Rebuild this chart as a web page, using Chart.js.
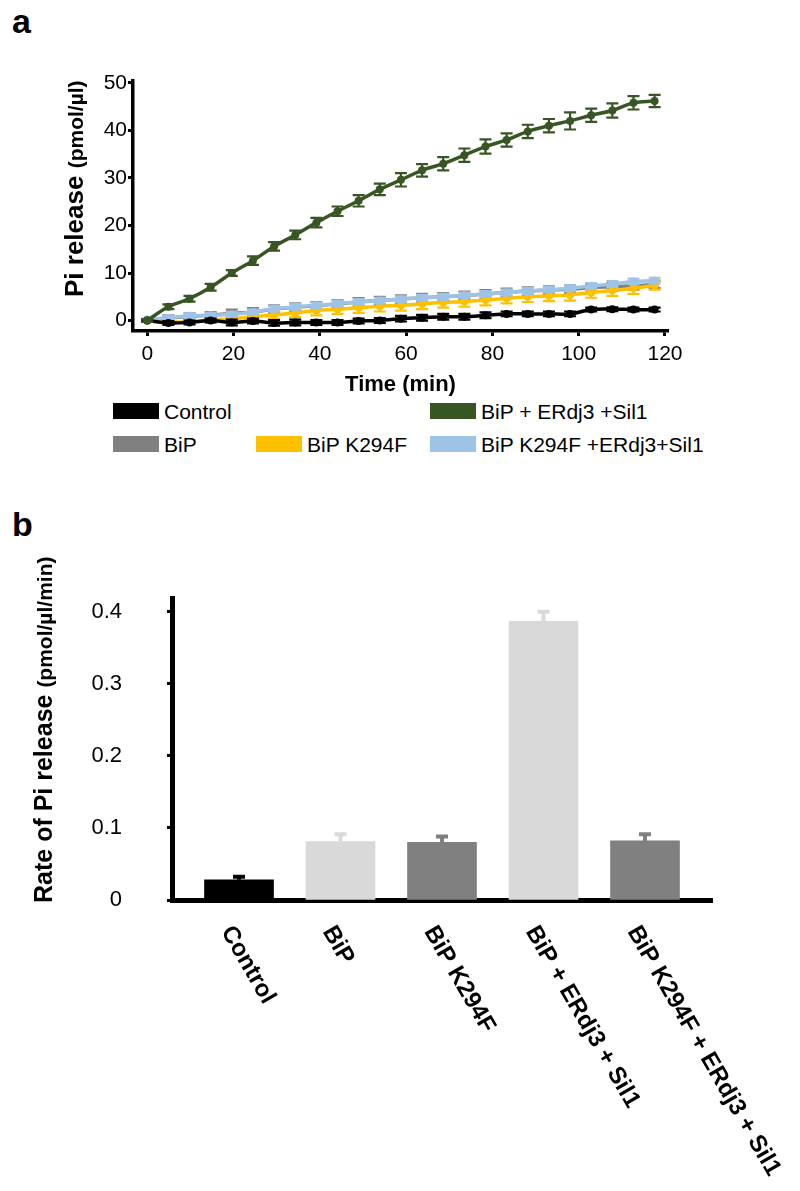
<!DOCTYPE html>
<html>
<head>
<meta charset="utf-8">
<script src="https://cdn.jsdelivr.net/npm/chart.js@4.4.1/dist/chart.umd.min.js"></script>
<style>
  body { margin: 0; background: #fff; width: 800px; height: 1191px; position: relative; overflow: hidden;
         font-family: 'Liberation Sans', Arial, Helvetica, sans-serif; }
  canvas { position: absolute; left: 0; }
  #chartA { top: 0; }
  #chartB { top: 540px; }
  .panel { position: absolute; font-weight: bold; font-size: 34px; line-height: 1; }
  .sw { position: absolute; width: 46px; height: 16px; }
  .lt { position: absolute; font-size: 21px; line-height: 1; color: #000; white-space: nowrap; }
</style>
</head>
<body>
<div class="panel" style="left:12px;top:4px">a</div>
<div class="panel" style="left:12px;top:507px">b</div>
<canvas id="chartA" width="800" height="400"></canvas>
<div id="legend"></div>
<canvas id="chartB" width="800" height="651"></canvas>

<script>
// ---- panel a data (time course) ----
var times = [0, 4.9, 9.8, 14.7, 19.6, 24.5, 29.4, 34.3, 39.2, 44.1, 49, 53.9, 58.8, 63.7, 68.6, 73.5, 78.4, 83.3, 88.2, 93.1, 98, 102.9, 107.8, 112.7, 117.6];

var control    = [0, -0.5, -0.4, 0, -0.4, -0.1, -0.5, -0.4, -0.4, -0.4, -0.1, 0, 0.4, 0.6, 0.8, 0.8, 1.1, 1.4, 1.4, 1.4, 1.4, 2.3, 2.4, 2.3, 2.3];
var controlErr = [0.2, 0.4, 0.4, 0.4, 0.6, 0.5, 0.6, 0.6, 0.5, 0.5, 0.5, 0.5, 0.6, 0.6, 0.6, 0.6, 0.6, 0.5, 0.5, 0.5, 0.5, 0.4, 0.4, 0.4, 0.4];

var bip    = [0, 0.5, 0.9, 1.1, 1.5, 1.8, 2.4, 2.8, 3.1, 3.5, 3.9, 4.2, 4.5, 4.8, 5.0, 5.3, 5.6, 5.9, 6.2, 6.4, 6.6, 6.9, 7.1, 7.3, 7.6];
var bipErr = [0.3, 0.6, 0.6, 0.7, 0.8, 0.8, 0.8, 0.8, 0.8, 0.8, 0.8, 0.8, 0.8, 0.8, 0.8, 0.8, 0.8, 0.8, 0.8, 0.8, 0.8, 0.8, 0.8, 0.8, 0.8];

var bipK    = [0, -0.3, -0.2, 0.1, 0.4, 0.8, 1.2, 1.6, 2.1, 2.4, 2.7, 3.0, 3.2, 3.5, 3.8, 4.0, 4.3, 4.7, 5.0, 5.2, 5.4, 5.9, 6.3, 6.8, 7.4];
var bipKErr = [0.2, 0.3, 0.4, 0.5, 0.6, 0.7, 0.8, 0.9, 1.0, 1.0, 1.1, 1.1, 1.1, 1.1, 1.1, 1.1, 1.1, 1.1, 1.1, 1.1, 1.2, 1.1, 1.1, 1.2, 0.9];

var bipEs    = [0, 2.9, 4.6, 7.0, 10.0, 12.6, 15.6, 18.0, 20.6, 23.0, 25.2, 27.6, 29.6, 31.6, 33.0, 34.8, 36.6, 38.0, 39.8, 41.0, 42.0, 43.2, 44.2, 45.8, 46.2];
var bipEsErr = [0.3, 0.5, 0.6, 0.7, 0.6, 0.9, 0.9, 0.9, 1.0, 1.0, 1.2, 1.2, 1.4, 1.3, 1.4, 1.4, 1.5, 1.4, 1.4, 1.4, 1.8, 1.4, 1.5, 1.4, 1.3];

var bipKEs    = [0.2, 0.6, 1.0, 1.1, 1.3, 1.8, 2.5, 2.9, 3.2, 3.6, 3.9, 4.2, 4.5, 4.8, 5.0, 5.3, 5.6, 5.9, 6.2, 6.5, 6.8, 7.3, 7.7, 8.2, 8.4];
var bipKEsErr = [0.2, 0.4, 0.5, 0.5, 0.5, 0.5, 0.6, 0.6, 0.6, 0.6, 0.6, 0.6, 0.6, 0.6, 0.6, 0.6, 0.6, 0.6, 0.6, 0.6, 0.6, 0.6, 0.6, 0.6, 0.6];

var seriesNames = ['Control', 'BiP', 'BiP K294F', 'BiP + ERdj3 +Sil1', 'BiP K294F +ERdj3+Sil1'];
var xTicksA = [0, 20, 40, 60, 80, 100, 120];
var yTicksA = [0, 10, 20, 30, 40, 50];

// ---- panel b data (rates) ----
var barCategories = ['Control', 'BiP', 'BiP K294F', 'BiP + ERdj3 + Sil1', 'BiP K294F + ERdj3 + Sil1'];
var rates   = [0.028, 0.081, 0.080, 0.387, 0.082];
var rateErr = [0.007, 0.013, 0.011, 0.016, 0.012];
var yTicksB = [0, 0.1, 0.2, 0.3, 0.4];

var FONT = "'Liberation Sans', Arial, Helvetica, sans-serif";

// ---------- panel a ----------
var seriesA = [control, bip, bipK, bipEs, bipKEs];
var errA = [controlErr, bipErr, bipKErr, bipEsErr, bipKEsErr];
var colorsA = ['#000000', '#808080', '#ffc000', '#375623', '#9dc3e6'];
var orderA = [1, 4, 3, 0, 2];

var errorBarsA = {
  id: 'errorBarsA',
  afterDatasetDraw: function(chart, args) {
    var ds = chart.data.datasets[args.index];
    var ctx = chart.ctx, x = chart.scales.x, y = chart.scales.y;
    ctx.save();
    ctx.strokeStyle = ds.borderColor;
    ctx.lineWidth = 2.2;
    ds.data.forEach(function(p, j) {
      var e = ds.errors[j];
      var px = x.getPixelForValue(p.x);
      var top = y.getPixelForValue(p.y + e), bot = y.getPixelForValue(p.y - e);
      ctx.beginPath();
      ctx.moveTo(px, top); ctx.lineTo(px, bot);
      ctx.moveTo(px - 6, top); ctx.lineTo(px + 6, top);
      ctx.moveTo(px - 6, bot); ctx.lineTo(px + 6, bot);
      ctx.stroke();
    });
    ctx.restore();
  },
  afterDraw: function(chart) {
    var ctx = chart.ctx, area = chart.chartArea;
    ctx.save();
    ctx.fillStyle = '#000';
    // y title
    ctx.translate(83, 297);
    ctx.rotate(-Math.PI / 2);
    ctx.textAlign = 'left';
    ctx.textBaseline = 'alphabetic';
    ctx.font = 'bold 26px ' + FONT;
    ctx.fillText('Pi release', 0, 0);
    var w = ctx.measureText('Pi release ').width;
    ctx.font = 'bold 21px ' + FONT;
    ctx.fillText('(pmol/\u00b5l)', w, 0);
    ctx.restore();
    // x title
    ctx.save();
    ctx.fillStyle = '#000';
    ctx.font = 'bold 22px ' + FONT;
    ctx.textAlign = 'center';
    ctx.textBaseline = 'alphabetic';
    ctx.fillText('Time (min)', (area.left + area.right) / 2, 391);
    ctx.restore();
  }
};

new Chart(document.getElementById('chartA'), {
  type: 'line',
  data: {
    datasets: seriesA.map(function(s, i) {
      return {
        label: seriesNames[i],
        data: s.map(function(v, j) { return { x: times[j], y: v }; }),
        errors: errA[i],
        borderColor: colorsA[i],
        backgroundColor: colorsA[i],
        borderWidth: 3.5,
        pointRadius: 4,
        pointBorderWidth: 0,
        tension: 0.4,
        order: orderA[i],
        clip: false
      };
    })
  },
  options: {
    responsive: false,
    animation: false,
    devicePixelRatio: 1,
    layout: { padding: { top: 81, right: 132, left: 0, bottom: 0 } },
    plugins: { legend: { display: false }, tooltip: { enabled: false } },
    scales: {
      x: {
        type: 'linear', min: -3.3, max: 120.7,
        afterBuildTicks: function(s) { s.ticks = xTicksA.map(function(v) { return { value: v }; }); },
        afterFit: function(s) { s.height = 69; },
        border: { display: true, color: '#000', width: 3.5 },
        grid: { display: true, drawOnChartArea: false, drawTicks: true, tickLength: 5, tickWidth: 3, tickColor: '#000' },
        ticks: { color: '#000', font: { family: FONT, size: 21 }, padding: 6, maxRotation: 0 }
      },
      y: {
        type: 'linear', min: -2.2, max: 50.4,
        afterBuildTicks: function(s) { s.ticks = yTicksA.map(function(v) { return { value: v }; }); },
        afterFit: function(s) { s.width = 133; },
        border: { display: true, color: '#000', width: 3.5 },
        grid: { display: true, drawOnChartArea: false, drawTicks: true, tickLength: 5, tickWidth: 3, tickColor: '#000' },
        ticks: { color: '#000', font: { family: FONT, size: 21 }, padding: 1 }
      }
    }
  },
  plugins: [errorBarsA]
});

// legend for panel a
var legendSpots = [
  { left: 113, top: 403 },  // Control
  { left: 113, top: 436 },  // BiP
  { left: 256, top: 436 },  // BiP K294F
  { left: 430, top: 403 },  // BiP + ERdj3 +Sil1
  { left: 430, top: 436 }   // BiP K294F +ERdj3+Sil1
];
var legend = document.getElementById('legend');
seriesNames.forEach(function(name, i) {
  var sw = document.createElement('div');
  sw.className = 'sw';
  sw.style.left = legendSpots[i].left + 'px';
  sw.style.top = legendSpots[i].top + 'px';
  sw.style.background = colorsA[i];
  legend.appendChild(sw);
  var t = document.createElement('div');
  t.className = 'lt';
  t.style.left = (legendSpots[i].left + 51) + 'px';
  t.style.top = (legendSpots[i].top - 2) + 'px';
  t.textContent = name;
  legend.appendChild(t);
});

// ---------- panel b ----------
var barColors = ['#000000', '#d9d9d9', '#808080', '#d9d9d9', '#808080'];

var barExtras = {
  id: 'barExtras',
  afterDatasetsDraw: function(chart) {
    var ctx = chart.ctx, x = chart.scales.x, y = chart.scales.y;
    ctx.save();
    rates.forEach(function(v, i) {
      var px = x.getPixelForValue(i);
      var top = y.getPixelForValue(v + rateErr[i]), base = y.getPixelForValue(v);
      ctx.strokeStyle = barColors[i];
      ctx.lineWidth = 4;
      ctx.beginPath();
      ctx.moveTo(px, base); ctx.lineTo(px, top + 2);
      ctx.moveTo(px - 6, top + 2); ctx.lineTo(px + 6, top + 2);
      ctx.stroke();
    });
    ctx.restore();
  },
  afterDraw: function(chart) {
    var ctx = chart.ctx, x = chart.scales.x;
    // rotated category labels
    barCategories.forEach(function(lbl, i) {
      var px = x.getPixelForValue(i);
      ctx.save();
      ctx.translate(px - 2, 382);
      ctx.rotate(60 * Math.PI / 180);
      ctx.fillStyle = '#000';
      ctx.font = 'bold 24px ' + FONT;
      ctx.textAlign = 'left';
      ctx.textBaseline = 'top';
      ctx.fillText(lbl, 0, 0);
      ctx.restore();
    });
    // y title
    ctx.save();
    ctx.fillStyle = '#000';
    ctx.translate(52, 363);
    ctx.rotate(-Math.PI / 2);
    ctx.textAlign = 'left';
    ctx.textBaseline = 'alphabetic';
    ctx.font = 'bold 25px ' + FONT;
    ctx.fillText('Rate of Pi release', 0, 0);
    var w = ctx.measureText('Rate of Pi release ').width;
    ctx.font = 'bold 21px ' + FONT;
    ctx.fillText('(pmol/\u00b5l/min)', w, 0);
    ctx.restore();
  }
};

new Chart(document.getElementById('chartB'), {
  type: 'bar',
  data: {
    datasets: [{
      label: 'Rate of Pi release',
      data: rates.map(function(v, i) { return { x: i, y: v }; }),
      backgroundColor: barColors,
      borderWidth: 0,
      barThickness: 69
    }]
  },
  options: {
    responsive: false,
    animation: false,
    devicePixelRatio: 1,
    layout: { padding: { top: 33, right: 88, left: 0, bottom: 0 } },
    plugins: { legend: { display: false }, tooltip: { enabled: false } },
    scales: {
      x: {
        type: 'linear', min: -0.66, max: 4.66, offset: false,
        afterFit: function(s) { s.height = 291; },
        border: { display: true, color: '#000', width: 5 },
        grid: { display: false },
        ticks: { display: false }
      },
      y: {
        min: 0, max: 0.419,
        afterBuildTicks: function(s) { s.ticks = yTicksB.map(function(v) { return { value: v }; }); },
        afterFit: function(s) { s.width = 172; },
        border: { display: true, color: '#000', width: 5 },
        grid: { display: true, drawOnChartArea: false, drawTicks: true, tickLength: 5, tickWidth: 3, tickColor: '#000' },
        ticks: {
          color: '#000', font: { family: FONT, size: 22 }, padding: 45,
          callback: function(v) { return v === 0 ? '0' : v.toFixed(1); }
        }
      }
    }
  },
  plugins: [barExtras]
});
</script>
</body>
</html>
